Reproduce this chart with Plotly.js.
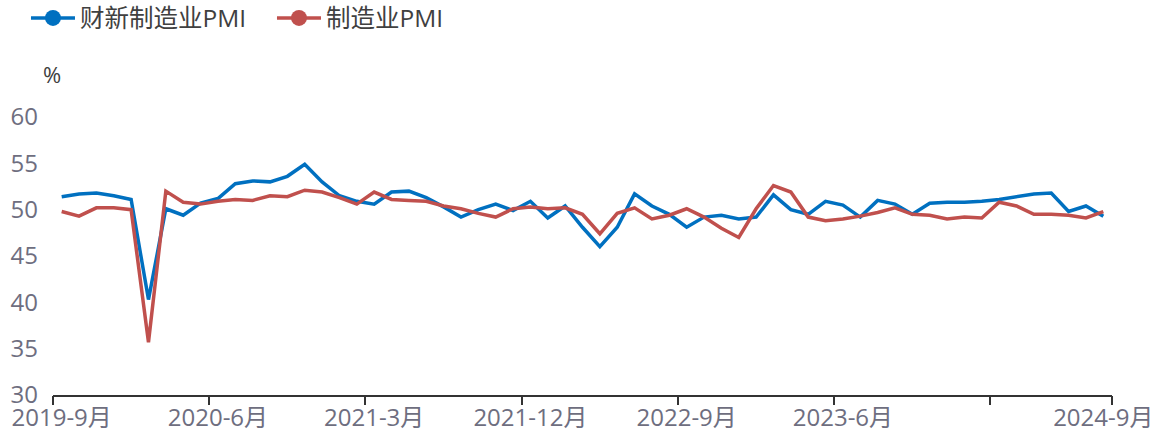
<!DOCTYPE html>
<html>
<head>
<meta charset="utf-8">
<script src="https://cdn.plot.ly/plotly-3.0.1.min.js"></script>
<style>html,body{margin:0;padding:0;background:#fff;}#chart{width:1160px;height:436px;}</style>
</head>
<body>
<div id="chart"></div>
<script>
// Months 2019-9 .. 2024-9
const months = [
  "2019-9月","2019-10月","2019-11月","2019-12月",
  "2020-1月","2020-2月","2020-3月","2020-4月","2020-5月","2020-6月","2020-7月","2020-8月","2020-9月","2020-10月","2020-11月","2020-12月",
  "2021-1月","2021-2月","2021-3月","2021-4月","2021-5月","2021-6月","2021-7月","2021-8月","2021-9月","2021-10月","2021-11月","2021-12月",
  "2022-1月","2022-2月","2022-3月","2022-4月","2022-5月","2022-6月","2022-7月","2022-8月","2022-9月","2022-10月","2022-11月","2022-12月",
  "2023-1月","2023-2月","2023-3月","2023-4月","2023-5月","2023-6月","2023-7月","2023-8月","2023-9月","2023-10月","2023-11月","2023-12月",
  "2024-1月","2024-2月","2024-3月","2024-4月","2024-5月","2024-6月","2024-7月","2024-8月","2024-9月"
];
// 财新制造业PMI
const caixinPMI = [
  51.4,51.7,51.8,51.5,
  51.1,40.3,50.1,49.4,50.7,51.2,52.8,53.1,53.0,53.6,54.9,53.0,
  51.5,50.9,50.6,51.9,52.0,51.3,50.3,49.2,50.0,50.6,49.9,50.9,
  49.1,50.4,48.1,46.0,48.1,51.7,50.4,49.5,48.1,49.2,49.4,49.0,
  49.2,51.6,50.0,49.5,50.9,50.5,49.2,51.0,50.6,49.5,50.7,50.8,
  50.8,50.9,51.1,51.4,51.7,51.8,49.8,50.4,49.3
];
// 制造业PMI
const nbsPMI = [
  49.8,49.3,50.2,50.2,
  50.0,35.7,52.0,50.8,50.6,50.9,51.1,51.0,51.5,51.4,52.1,51.9,
  51.3,50.6,51.9,51.1,51.0,50.9,50.4,50.1,49.6,49.2,50.1,50.3,
  50.1,50.2,49.5,47.4,49.6,50.2,49.0,49.4,50.1,49.2,48.0,47.0,
  50.1,52.6,51.9,49.2,48.8,49.0,49.3,49.7,50.2,49.5,49.4,49.0,
  49.2,49.1,50.8,50.4,49.5,49.5,49.4,49.1,49.8
];
const seriesNames = ["财新制造业PMI","制造业PMI"];
const seriesColors = ["#0070C0","#C0504D"];
const labelIdx = [0,9,18,27,36,45,60];
const tickBoundaries = [-0.5,8.5,17.5,26.5,35.5,44.5,53.5,60.5];
const yTicks = [30,35,40,45,50,55,60];
const unitLabel = "%";

const FONT = '"Open Sans","Noto Sans CJK SC",sans-serif';
const series = [caixinPMI, nbsPMI];
const traces = [];
series.forEach((vals, i) => {
  traces.push({
    type: 'scatter', mode: 'lines', x: months, y: vals,
    name: seriesNames[i], showlegend: false, legendgroup: 'g' + i,
    line: {color: seriesColors[i], width: 3.5}, hoverinfo: 'x+y+name'
  });
});
series.forEach((vals, i) => {
  traces.push({
    type: 'scatter', mode: 'lines+markers', x: [null], y: [null],
    name: seriesNames[i], showlegend: true, legendgroup: 'g' + i,
    line: {color: seriesColors[i], width: 3.5},
    marker: {color: seriesColors[i], size: 16}
  });
});
traces.push({type: 'scatter', mode: 'lines', x: [], y: [], xaxis: 'x2', showlegend: false, hoverinfo: 'skip'});

const layout = {
  width: 1160, height: 436,
  margin: {l: 53, r: 48, t: 117, b: 41},
  paper_bgcolor: '#ffffff', plot_bgcolor: '#ffffff',
  font: {family: FONT, size: 24, color: '#6E6E80'},
  showlegend: true,
  legend: {
    orientation: 'h', xref: 'container', yref: 'container',
    x: 0.0224, y: 0.9587, xanchor: 'left', yanchor: 'middle',
    font: {family: FONT, size: 24.5, color: '#404040'},
    itemwidth: 44, tracegroupgap: 0,
    entrywidth: 187, entrywidthmode: 'pixels'
  },
  xaxis: {
    type: 'category', categoryorder: 'array', categoryarray: months,
    range: [-0.5, 60.5], fixedrange: true,
    tickmode: 'array', tickvals: labelIdx.map(i => months[i]), ticktext: labelIdx.map(i => months[i]),
    ticks: '', showgrid: false, zeroline: false,
    showline: true, linecolor: '#333333', linewidth: 2,
    tickfont: {family: FONT, size: 24, color: '#6E6E80'},
    ticklabelstandoff: 0, automargin: false
  },
  xaxis2: {
    overlaying: 'x', anchor: 'y', side: 'bottom', type: 'linear',
    range: [-0.5, 60.5], fixedrange: true,
    tickmode: 'array', tickvals: tickBoundaries, showticklabels: false,
    ticks: 'outside', ticklen: 9, tickwidth: 2, tickcolor: '#333333',
    showgrid: false, zeroline: false, showline: false
  },
  yaxis: {
    range: [30, 60], fixedrange: true,
    tickmode: 'array', tickvals: yTicks, ticktext: yTicks.map(String),
    ticks: '', showgrid: false, zeroline: false, showline: false,
    tickfont: {family: FONT, size: 24, color: '#6E6E80'},
    ticklabelstandoff: 14, automargin: false
  },
  annotations: [{
    text: unitLabel, xref: 'paper', yref: 'paper', x: -0.001, y: 1.155,
    xanchor: 'center', yanchor: 'middle', showarrow: false,
    font: {family: FONT, size: 22, color: '#404040'}
  }]
};
Plotly.newPlot('chart', traces, layout, {displayModeBar: false, staticPlot: true});
</script>
</body>
</html>
